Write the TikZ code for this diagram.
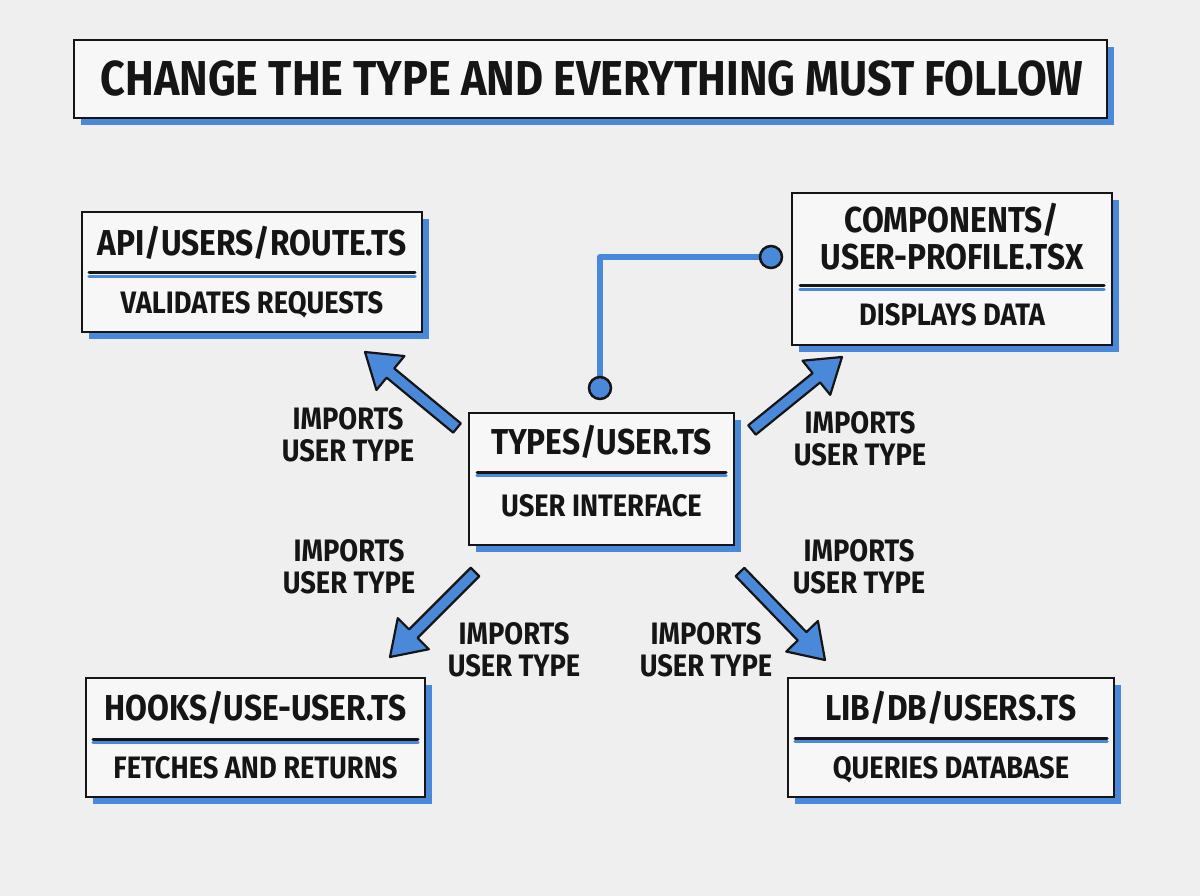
\documentclass[tikz,border=0pt]{standalone}
\usepackage{fontspec}
\setmainfont{Fira Sans}[FakeStretch=0.88]
\usetikzlibrary{calc,shadows}
\definecolor{bg}{HTML}{EFEFEF}
\definecolor{boxfill}{HTML}{F7F7F7}
\definecolor{acc}{HTML}{4A88DA}
\definecolor{ink}{HTML}{151515}
\newcommand\fatarrow[2]{%
  \coordinate (fah) at ($(#2)!33pt!(#1)$);
  \draw[fatarr] ($(#1)!6pt!90:(#2)$) -- ($(fah)!6pt!90:(#2)$) -- ($(fah)!22pt!90:(#2)$) -- (#2)
    -- ($(fah)!22pt!-90:(#2)$) -- ($(fah)!6pt!-90:(#2)$) -- ($(#1)!6pt!-90:(#2)$) -- cycle;}
\newcommand\divider[3]{%
  \draw[acc, line width=3.5pt, line cap=round] (#1,#3+3.5) -- (#2,#3+3.5);
  \draw[ink, line width=3pt, line cap=round] (#1,#3) -- (#2,#3);}
\begin{document}
\begin{tikzpicture}[x=1pt,y=-1pt,
  box/.style={draw=ink, line width=2.8pt, fill=boxfill, inner sep=0pt,
    drop shadow={shadow xshift=7pt, shadow yshift=-7pt, fill=acc, opacity=1}},
  bigttl/.style={font=\bfseries\fontsize{49}{49}\selectfont, text=ink, anchor=base, inner sep=0pt},
  ttl/.style={font=\bfseries\fontsize{36}{38}\selectfont, text=ink, anchor=base, inner sep=0pt, align=center},
  sub/.style={font=\bfseries\fontsize{31}{32}\selectfont, text=ink, anchor=base, inner sep=0pt},
  lbl/.style={font=\bfseries\fontsize{31}{32}\selectfont, text=ink, anchor=base, inner sep=0pt, align=center},
  fatarr/.style={draw=ink, fill=acc, line width=2.2pt, line join=round},
  dotn/.style={circle, draw=ink, fill=acc, line width=2.5pt, minimum size=22pt, inner sep=0pt},
  wire/.style={draw=acc, line width=6pt, line join=round}]
\fill[bg] (0,0) rectangle (1200,896);
\useasboundingbox (0,0) rectangle (1200,896);

% title
\node[box, minimum width=1033pt, minimum height=78pt] (titlebox) at (590.5,79) {};
\node[bigttl] (title) at (592,96) {CHANGE THE TYPE AND EVERYTHING MUST FOLLOW};

% boxes
\node[box, minimum width=340pt, minimum height=120pt] (api) at (252,272) {};
\node[box, minimum width=320pt, minimum height=152pt] (comp) at (952,269) {};
\node[box, minimum width=265pt, minimum height=132pt] (types) at (601.5,479) {};
\node[box, minimum width=339pt, minimum height=119pt] (hooks) at (255.5,737.5) {};
\node[box, minimum width=326pt, minimum height=119pt] (lib) at (951,737.5) {};

% box texts
\node[ttl] (apit) at (252,256) {API/USERS/ROUTE.TS};
\divider{89}{415}{273}
\node[sub] (apis) at (252,313) {VALIDATES REQUESTS};

\node[ttl] (compt) at (952,270) {COMPONENTS/\\USER-PROFILE.TSX};
\divider{800}{1104}{286}
\node[sub] (comps) at (952,325) {DISPLAYS DATA};

\node[ttl] (typest) at (601.5,454) {TYPES/USER.TS};
\divider{477}{726}{472}
\node[sub] (typess) at (601.5,516) {USER INTERFACE};

\node[ttl] (hookst) at (255.5,720) {HOOKS/USE-USER.TS};
\divider{93}{418}{739}
\node[sub] (hookss) at (255.5,778) {FETCHES AND RETURNS};

\node[ttl] (libt) at (951,720) {LIB/DB/USERS.TS};
\divider{795}{1107}{738}
\node[sub] (libs) at (951,778) {QUERIES DATABASE};

% wire with dots
\coordinate (d1c) at (600,388);
\coordinate (d2c) at (771,257);
\draw[wire] (d1c) |- (d2c);
\node[dotn] (d1) at (d1c) {};
\node[dotn] (d2) at (d2c) {};

% arrows
\coordinate (a1s) at (457,428); \coordinate (a1e) at (365,352);
\coordinate (a2s) at (752,430); \coordinate (a2e) at (842,357);
\coordinate (a3s) at (475,572); \coordinate (a3e) at (390,657);
\coordinate (a4s) at (740,572); \coordinate (a4e) at (825,660);
\fatarrow{a1s}{a1e}
\fatarrow{a2s}{a2e}
\fatarrow{a3s}{a3e}
\fatarrow{a4s}{a4e}

% labels (anchor = baseline of last line)
\node[lbl] (l1) at (348,461) {IMPORTS\\USER TYPE};
\node[lbl] (l2) at (860,465) {IMPORTS\\USER TYPE};
\node[lbl] (l3) at (349,593) {IMPORTS\\USER TYPE};
\node[lbl] (l4) at (514,676) {IMPORTS\\USER TYPE};
\node[lbl] (l5) at (859,593) {IMPORTS\\USER TYPE};
\node[lbl] (l6) at (706,676) {IMPORTS\\USER TYPE};
\end{tikzpicture}
\end{document}
